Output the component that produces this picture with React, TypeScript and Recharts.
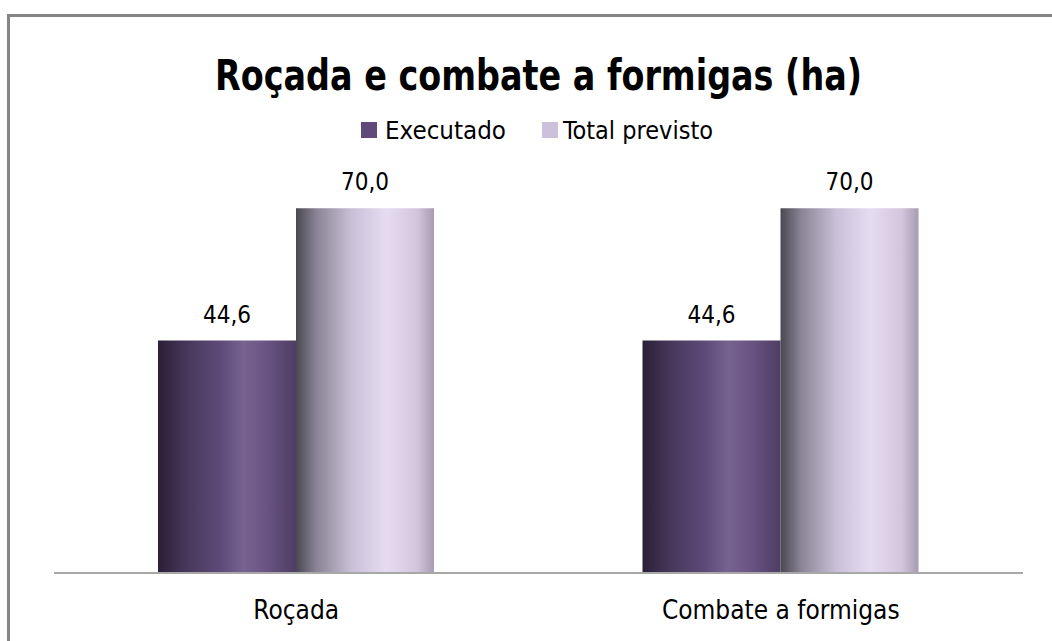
import React from 'react';
import { BarChart, Bar, XAxis, YAxis, LabelList } from 'recharts';

const categories = ['Roçada', 'Combate a formigas'];
const executado = [44.6, 44.6];
const totalPrevisto = [70.0, 70.0];
const seriesNames = ['Executado', 'Total previsto'];

const data = categories.map((c, i) => ({ name: c, exec: executado[i], total: totalPrevisto[i] }));

const FONT = "'Liberation Sans Narrow', 'DejaVu Sans Condensed', 'Open Sans', sans-serif";

const fmt = (v: any) => Number(v).toFixed(1).replace('.', ',');

const Tick = (props: any) => {
  const { x, y, payload } = props;
  return (
    <text x={x} y={y + 38} textAnchor="middle" fontFamily={FONT} fontSize={26} fill="#000">
      {payload.value}
    </text>
  );
};

export default function App() {
  return (
    <div style={{ position: 'fixed', left: 0, top: 0, width: 1052, height: 641, overflow: 'hidden', background: '#fff' }}>
      <div style={{ position: 'absolute', left: 7, top: 14, width: 1200, height: 800, borderLeft: '3px solid #868686', borderTop: '3px solid #868686' }} />
      <div style={{ position: 'absolute', left: 0, top: 0, width: 1052, height: 641 }}>
        <BarChart width={1052} height={641} data={data} margin={{ top: 156, right: 29, bottom: 0, left: 54 }} barGap={0} barSize={138}>
          <defs>
            <linearGradient id="gExec" x1="0" y1="0" x2="1" y2="0">
              <stop offset="0%" stopColor="#2a1f36" />
              <stop offset="20%" stopColor="#46375a" />
              <stop offset="45%" stopColor="#5e4a78" />
              <stop offset="62%" stopColor="#77638f" />
              <stop offset="78%" stopColor="#6a5484" />
              <stop offset="100%" stopColor="#4e3d63" />
            </linearGradient>
            <linearGradient id="gTotal" x1="0" y1="0" x2="1" y2="0">
              <stop offset="0%" stopColor="#4a4852" />
              <stop offset="15%" stopColor="#8a8496" />
              <stop offset="40%" stopColor="#c9bfd6" />
              <stop offset="65%" stopColor="#e6dcf2" />
              <stop offset="88%" stopColor="#d2c6dc" />
              <stop offset="100%" stopColor="#a69bb2" />
            </linearGradient>
          </defs>
          <XAxis dataKey="name" height={68} tickLine={false} axisLine={{ stroke: '#a8a8a8', strokeWidth: 2 }} tick={<Tick />} interval={0} />
          <YAxis hide domain={[0, 80]} />
          <Bar dataKey="exec" name={seriesNames[0]} fill="url(#gExec)" isAnimationActive={false}>
            <LabelList dataKey="exec" position="top" offset={18} formatter={fmt} style={{ fontFamily: FONT, fontSize: 24, fill: '#000' }} />
          </Bar>
          <Bar dataKey="total" name={seriesNames[1]} fill="url(#gTotal)" isAnimationActive={false}>
            <LabelList dataKey="total" position="top" offset={18} formatter={fmt} style={{ fontFamily: FONT, fontSize: 24, fill: '#000' }} />
          </Bar>
        </BarChart>
      </div>
      <svg style={{ position: 'absolute', left: 0, top: 0 }} width={1052} height={150}>
        <text x={215} y={90} fontFamily={FONT} fontWeight="bold" fontSize={43} textLength={647} lengthAdjust="spacingAndGlyphs" fill="#000">
          Roçada e combate a formigas (ha)
        </text>
        <rect x={361} y={122} width={16} height={16} fill="#604a7b" />
        <text x={385} y={139} fontFamily={FONT} fontSize={24} textLength={121} lengthAdjust="spacingAndGlyphs" fill="#000">{seriesNames[0]}</text>
        <rect x={542} y={122} width={16} height={16} fill="#ccc1da" />
        <text x={563} y={139} fontFamily={FONT} fontSize={24} textLength={150} lengthAdjust="spacingAndGlyphs" fill="#000">{seriesNames[1]}</text>
      </svg>
    </div>
  );
}
